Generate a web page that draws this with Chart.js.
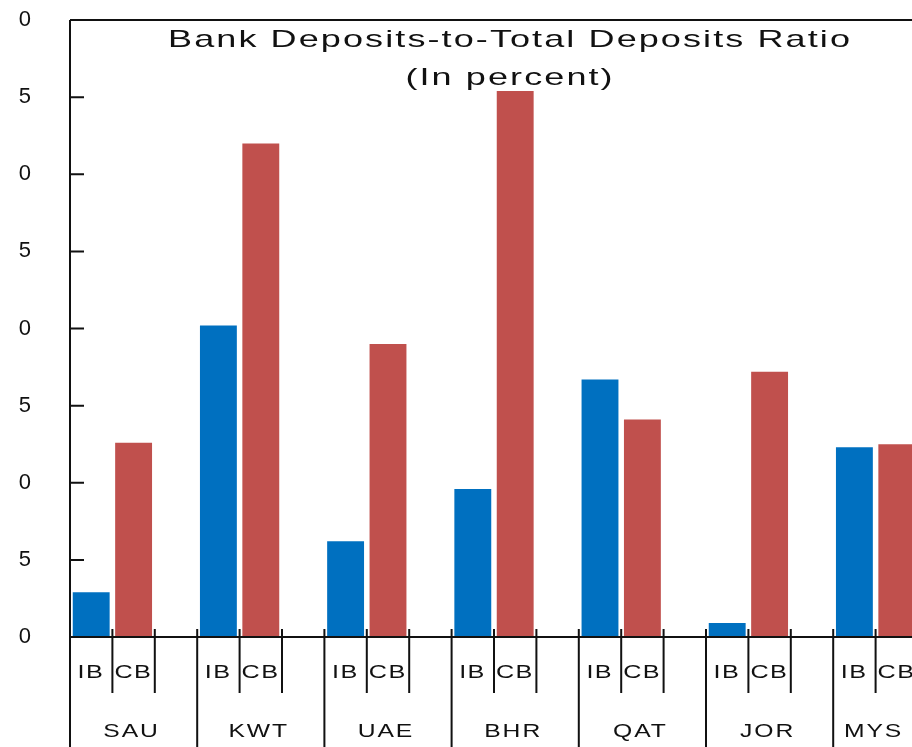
<!DOCTYPE html>
<html>
<head>
<meta charset="utf-8">
<script src="https://cdn.jsdelivr.net/npm/chart.js@4.4.1/dist/chart.umd.min.js"></script>
<style>
  html, body { margin: 0; padding: 0; background: #fff; overflow: hidden; }
  #wrap { width: 912px; height: 747px; overflow: hidden; }
  canvas { display: block; }
</style>
</head>
<body>
<div id="wrap">
  <canvas id="ratiochart" width="940" height="747"></canvas>
</div>
<script>
// Data block
const countries = ['SAU', 'KWT', 'UAE', 'BHR', 'QAT', 'JOR', 'MYS'];
const bankTags = ['IB', 'CB'];
const ibRatio = [2.9, 20.2, 6.2, 9.6, 16.7, 0.9, 12.3];
const cbRatio = [12.6, 32.0, 19.0, 35.4, 14.1, 17.2, 12.5];
const titleLines = ['Bank Deposits-to-Total Deposits Ratio', '(In percent)'];

// Slot layout: IB, CB and an empty spacer after every country but the last
const slotTags = [];
const slotCountry = [];
const ibSlots = [];
const cbSlots = [];
countries.forEach((c, i) => {
    slotTags.push('IB', 'CB');
    slotCountry.push(c, c);
    ibSlots.push(ibRatio[i], null);
    cbSlots.push(null, cbRatio[i]);
    if (i < countries.length - 1) {
        slotTags.push('');
        slotCountry.push('');
        ibSlots.push(null);
        cbSlots.push(null);
    }
});

const blue = '#0070C0';
const red = '#C0504D';
const ink = '#111';

// draw text a bit wider than the font, like the stretched picture
function drawWide(ctx, text, x, y, sx, spacing) {
    ctx.save();
    ctx.letterSpacing = spacing + 'px';
    ctx.translate(x, y);
    ctx.scale(sx, 1);
    ctx.textAlign = 'center';
    ctx.textBaseline = 'alphabetic';
    ctx.fillText(text, spacing / 2, 0);
    ctx.restore();
}

// Frame, inward ticks, two level category axis and title
const frameAndAxis = {
    id: 'frameAndAxis',
    afterDraw(chart) {
        const ctx = chart.ctx;
        const area = chart.chartArea;
        const xs = chart.scales.x;
        const ys = chart.scales.y;
        const bottom = chart.height;
        const slotW = xs.width / slotTags.length;

        ctx.save();
        ctx.strokeStyle = ink;
        ctx.lineWidth = 2;
        ctx.lineCap = 'butt';

        // top border and left axis (runs down through the label rows)
        ctx.beginPath();
        ctx.moveTo(area.left, area.top);
        ctx.lineTo(chart.width, area.top);
        ctx.moveTo(area.left, area.top);
        ctx.lineTo(area.left, bottom);
        // x axis line
        ctx.moveTo(area.left, area.bottom);
        ctx.lineTo(chart.width, area.bottom);
        ctx.stroke();

        // inward y ticks
        ctx.beginPath();
        ys.ticks.forEach(t => {
            const py = ys.getPixelForValue(t.value);
            ctx.moveTo(area.left, py);
            ctx.lineTo(area.left + 14, py);
        });
        ctx.stroke();

        // separators: short ones between slots, long ones between countries
        ctx.beginPath();
        slotTags.forEach((tag, i) => {
            const right = xs.getPixelForValue(i) + slotW / 2;
            const endsGroup = tag === '' || i === slotTags.length - 1;
            ctx.moveTo(right, area.bottom - 8);
            ctx.lineTo(right, endsGroup ? bottom : area.bottom + 56);
        });
        ctx.stroke();

        // slot labels
        ctx.fillStyle = ink;
        ctx.font = '18px "Liberation Sans"';
        slotTags.forEach((tag, i) => {
            if (tag) drawWide(ctx, tag, xs.getPixelForValue(i) - 1, area.bottom + 41, 1.4, 1);
        });

        // country labels, centred over each group's slots
        ctx.font = '19px "Liberation Sans"';
        countries.forEach(c => {
            const first = slotCountry.indexOf(c);
            const last = slotCountry.lastIndexOf(c);
            const isLast = c === countries[countries.length - 1];
            const gl = xs.getPixelForValue(first) - slotW / 2;
            const gr = xs.getPixelForValue(last) + slotW / 2 + (isLast ? 0 : slotW);
            drawWide(ctx, c, (gl + gr) / 2 - 3, area.bottom + 100, 1.3, 1.5);
        });

        // title inside the plot
        ctx.font = '24px "Liberation Sans"';
        const cx = (area.left + area.right) / 2 + 15;
        drawWide(ctx, titleLines[0], cx, area.top + 27, 1.5, 1.4);
        drawWide(ctx, titleLines[1], cx, area.top + 65, 1.5, 1.4);
        ctx.restore();
    }
};

// Config block
const ratioConfig = {
    type: 'bar',
    data: {
        labels: slotTags,
        datasets: [
            { label: 'IB', data: ibSlots, backgroundColor: blue },
            { label: 'CB', data: cbSlots, backgroundColor: red }
        ]
    },
    options: {
        responsive: false,
        animation: false,
        layout: { padding: { top: 20, left: 0, right: 22, bottom: 0 } },
        datasets: {
            bar: { grouped: false, barPercentage: 0.87, categoryPercentage: 1 }
        },
        plugins: {
            legend: { display: false },
            tooltip: { enabled: false }
        },
        scales: {
            x: {
                grid: { display: false, drawTicks: false },
                border: { display: false },
                ticks: { display: false },
                afterFit(scale) {
                    scale.height = 110;
                    scale.paddingLeft = 0;
                    scale.paddingRight = 0;
                }
            },
            y: {
                min: 0,
                max: 40,
                grid: { display: false, drawTicks: false },
                border: { display: false },
                ticks: {
                    stepSize: 5,
                    padding: 39,
                    color: '#111',
                    font: { family: 'Liberation Sans', size: 22 },
                    // the picture only keeps the last digit of each label
                    callback: value => String(value % 10)
                },
                afterFit(scale) {
                    scale.width = 70;
                    scale.paddingTop = 0;
                    scale.paddingBottom = 0;
                }
            }
        }
    },
    plugins: [frameAndAxis]
};

const ratioChart = new Chart(document.getElementById('ratiochart'), ratioConfig);
</script>
</body>
</html>
